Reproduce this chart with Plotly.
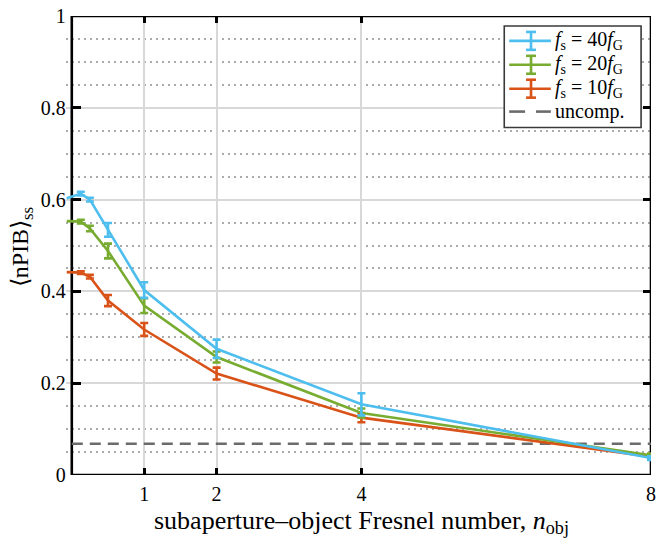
import plotly.graph_objects as go

# ---- data ----
n_obj = [-0.07, 0.125, 0.25, 0.5, 1, 2, 4, 8]
npib_40 = [0.603, 0.613, 0.600, 0.534, 0.403, 0.275, 0.154, 0.037]
err_40 = [None, 0.004, 0.004, 0.015, 0.017, 0.020, 0.024, 0.004]
npib_20 = [0.553, 0.552, 0.537, 0.488, 0.369, 0.257, 0.135, 0.043]
err_20 = [None, 0.004, 0.006, 0.016, 0.016, 0.012, 0.010, 0.004]
npib_10 = [0.442, 0.441, 0.432, 0.380, 0.317, 0.221, 0.125, 0.040]
err_10 = [None, 0.003, 0.004, 0.012, 0.014, 0.013, 0.010, 0.004]
uncomp = 0.068
series_names = ["<i>f</i><sub>s</sub> = 40<i>f</i><sub>G</sub>",
                "<i>f</i><sub>s</sub> = 20<i>f</i><sub>G</sub>",
                "<i>f</i><sub>s</sub> = 10<i>f</i><sub>G</sub>"]
colors = ["#4DBEEE", "#77AC30", "#D95319"]
x_ticks = [1, 2, 4, 8]
y_ticks = [0, 0.2, 0.4, 0.6, 0.8, 1]
y_ticklabels = ["0", "0.2", "0.4", "0.6", "0.8", "1"]

FONT = "Liberation Serif"
XMIN, XMAX = -0.08, 8.0

fig = go.Figure()

# uncompensated reference line
fig.add_trace(go.Scatter(x=[0, 8], y=[uncomp, uncomp], mode="lines",
                         line=dict(color="#6b6b6b", width=2.5, dash="11px,7px"),
                         showlegend=False, hoverinfo="skip"))

for ys, es, col in [(npib_10, err_10, colors[2]), (npib_20, err_20, colors[1]),
                    (npib_40, err_40, colors[0])]:
    fig.add_trace(go.Scatter(x=n_obj, y=ys, mode="lines",
                             line=dict(color=col, width=2.6),
                             showlegend=False, cliponaxis=False))
    ex = [x for x, e in zip(n_obj, es) if e is not None]
    ey = [y for y, e in zip(ys, es) if e is not None]
    ee = [e for e in es if e is not None]
    fig.add_trace(go.Scatter(x=ex, y=ey, mode="markers",
                             marker=dict(size=1, color=col, opacity=0),
                             error_y=dict(type="data", array=ee, visible=True,
                                          color=col, thickness=2.6, width=4),
                             showlegend=False, cliponaxis=False))

shapes = []
# frame
shapes.append(dict(type="rect", xref="x", yref="y", x0=0, x1=8, y0=0, y1=1,
                   line=dict(color="black", width=2.6), layer="between"))

# ---- manual legend ----
W, H = 661, 540
ml, mr, mt, mb = 66, 5, 14, 65
def px(xp):
    return (xp - ml) / (W - ml - mr)
def py(yp):
    return 1 - (yp - mt) / (H - mt - mb)

shapes.append(dict(type="rect", xref="paper", yref="paper",
                   x0=px(508), x1=px(646), y0=py(126), y1=py(24),
                   line=dict(color="#3a3a3a", width=1.6), fillcolor="white",
                   layer="above"))
row_y = [39, 63, 87, 110]
annotations = []
for i, (name, col) in enumerate(zip(series_names, colors)):
    yc = row_y[i]
    shapes.append(dict(type="line", xref="paper", yref="paper",
                       x0=px(513), x1=px(555), y0=py(yc), y1=py(yc),
                       line=dict(color=col, width=2.6), layer="above"))
    shapes.append(dict(type="line", xref="paper", yref="paper",
                       x0=px(535), x1=px(535), y0=py(yc - 9), y1=py(yc + 9),
                       line=dict(color=col, width=2.6), layer="above"))
    for dy in (-9, 9):
        shapes.append(dict(type="line", xref="paper", yref="paper",
                           x0=px(530), x1=px(540), y0=py(yc + dy), y1=py(yc + dy),
                           line=dict(color=col, width=2.6), layer="above"))
    annotations.append(dict(xref="paper", yref="paper", x=px(557), y=py(yc),
                            text=name, showarrow=False, xanchor="left",
                            yanchor="middle", font=dict(family=FONT, size=20, color="black")))
yc = row_y[3]
for a, b in [(513, 529), (540, 555)]:
    shapes.append(dict(type="line", xref="paper", yref="paper",
                       x0=px(a), x1=px(b), y0=py(yc), y1=py(yc),
                       line=dict(color="#6b6b6b", width=2.6), layer="above"))
annotations.append(dict(xref="paper", yref="paper", x=px(557), y=py(yc),
                        text="uncomp.", showarrow=False, xanchor="left",
                        yanchor="middle", font=dict(family=FONT, size=20, color="black")))

# axis titles
annotations.append(dict(xref="paper", yref="paper", x=px(364), y=py(522),
                        text="subaperture–object Fresnel number, <i>n</i><sub>obj</sub>",
                        showarrow=False, xanchor="center", yanchor="middle",
                        font=dict(family=FONT, size=26, color="black")))
annotations.append(dict(xref="paper", yref="paper", x=px(22), y=py(246),
                        text="⟨nPIB⟩<sub>ss</sub>", textangle=-90,
                        showarrow=False, xanchor="center", yanchor="middle",
                        font=dict(family=FONT, size=24, color="black")))

grid_major = "#d8d8d8"
fig.update_layout(
    width=W, height=H,
    margin=dict(l=ml, r=mr, t=mt, b=mb),
    paper_bgcolor="white", plot_bgcolor="white",
    showlegend=False,
    font=dict(family=FONT, size=20, color="black"),
    xaxis=dict(range=[XMIN, XMAX], tickvals=x_ticks, ticktext=[str(v) for v in x_ticks],
               ticks="inside", ticklen=7, tickwidth=2.6, tickcolor="black",
               showgrid=True, gridcolor=grid_major, gridwidth=2,
               zeroline=False, showline=False, ticklabelstandoff=5,
               tickfont=dict(family=FONT, size=20)),
    xaxis2=dict(range=[XMIN, XMAX], overlaying="x", side="top", tickvals=x_ticks,
                ticks="inside", ticklen=7, tickwidth=2.6, tickcolor="black",
                showticklabels=False, showgrid=False, zeroline=False, showline=False),
    yaxis=dict(range=[0, 1], tickvals=y_ticks, ticktext=y_ticklabels,
               anchor="free", position=(0 - XMIN) / (XMAX - XMIN),
               ticks="inside", ticklen=8, tickwidth=2.6, tickcolor="black",
               showgrid=True, gridcolor=grid_major, gridwidth=2,
               minor=dict(dtick=0.05, showgrid=True, gridcolor="#ababab",
                          gridwidth=1.5, griddash="2px,4px", ticks=""),
               zeroline=False, showline=False, ticklabelstandoff=6,
               tickfont=dict(family=FONT, size=20)),
    yaxis2=dict(range=[0, 1], overlaying="y", side="right", tickvals=y_ticks,
                ticks="inside", ticklen=8, tickwidth=2.6, tickcolor="black",
                showticklabels=False, showgrid=False, zeroline=False, showline=False),
    shapes=shapes,
    annotations=annotations,
)
# dummy trace so the mirror axes render
fig.add_trace(go.Scatter(x=[None], y=[None], xaxis="x2", yaxis="y2", showlegend=False))

fig.write_html("out.html")
